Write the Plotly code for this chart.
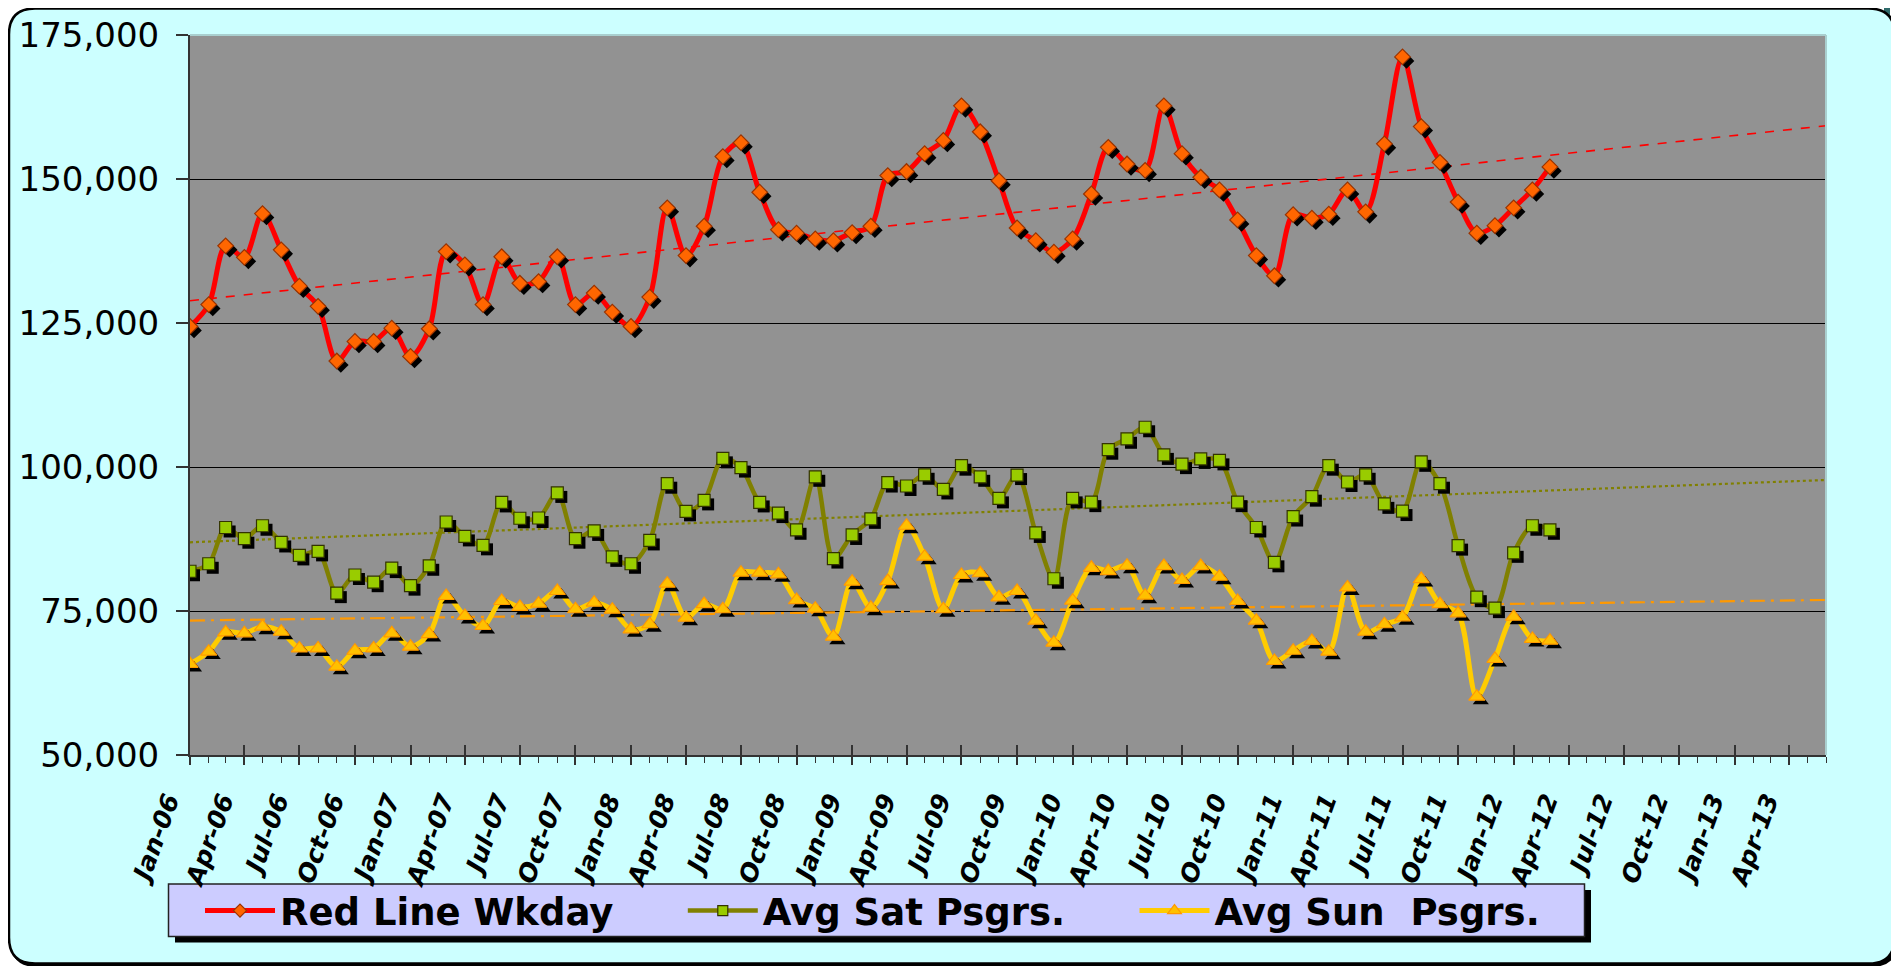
import numpy as np
import pandas as pd
import plotly.graph_objects as go

# ---------------- data ----------------
months = pd.date_range("2006-01-01", "2012-03-01", freq="MS")  # Jan-06 .. Mar-12
axis_start = "2006-01-01"
axis_end = "2013-06-01"

red_wkday = [124400, 128200, 138400, 136400, 144000, 137700, 131400, 127900, 118400, 121800,
             121800, 124100, 119200, 124000, 137400, 135100, 128200, 136500, 131900, 132200,
             136500, 128200, 130200, 126900, 124400, 129500, 145000, 136700, 141800, 153900,
             156300, 147700, 141200, 140600, 139600, 139300, 140700, 141800, 150600, 151300,
             154400, 156700, 162700, 158200, 149700, 141500, 139300, 137300, 139600, 147400,
             155500, 152600, 151500, 162700, 154400, 150300, 148100, 142900, 136700, 133200,
             143800, 143200, 143900, 148100, 144300, 156100, 171200, 159100, 152900, 146000,
             140600, 141900, 145000, 148100, 152100]

avg_sat = [81900, 83200, 89500, 87550, 89800, 86900, 84650, 85350, 78100, 81250,
           80000, 82450, 79400, 82850, 90450, 87950, 86400, 93850, 91100, 91150,
           95500, 87550, 88900, 84400, 83200, 87250, 97100, 92300, 94200, 101500,
           99900, 93850, 92000, 89100, 98300, 84100, 88200, 91000, 97300, 96700,
           98650, 96100, 100230, 98300, 94550, 98600, 88550, 80600, 94550, 93900,
           103000, 104900, 106900, 102100, 100500, 101400, 101150, 93900, 89500, 83450,
           91400, 94850, 100230, 97400, 98650, 93600, 92350, 100900, 97100, 86350,
           77400, 75500, 85100, 89800, 89100]

avg_sun = [65800, 67950, 71300, 71130, 72270, 71400, 68500, 68500, 65330, 68100,
           68500, 71130, 68800, 71000, 77600, 74130, 72400, 76740, 75700, 76270,
           78470, 75300, 76440, 75230, 71820, 72700, 79740, 73840, 76200, 75300,
           81650, 81650, 81370, 76900, 75400, 70540, 80090, 75570, 80200, 89800,
           84430, 75300, 81250, 81550, 77380, 78470, 73320, 69500, 76790, 82500,
           81940, 82860, 77660, 82800, 80380, 82800, 80950, 76740, 73320, 66320,
           68100, 69800, 67930, 79100, 71400, 72700, 73900, 80550, 76200, 74600,
           60120, 66670, 74000, 70140, 69840]

names = ["Red Line Wkday", "Avg Sat Psgrs.", "Avg Sun\u00a0 Psgrs."]
y_range = [50000, 175000]

# ---------------- geometry (screen pixels; page body adds an 8 px offset) ----------------
OFF = 8
SW, SH = 1899, 966
W, H = SW - OFF, SH - OFF
PL, PR, PT, PB = 190, 1826, 35, 755          # plot area in screen pixels
pw, ph = PR - PL, PB - PT


def px(x):
    return (x - PL) / pw


def py(y):
    return (PB - y) / ph


def P(x, y):
    return f"{px(x):.5f},{py(y):.5f}"


def rounded(L, T, R, B, r):
    return (f"M {P(L + r, T)} L {P(R - r, T)} Q {P(R, T)} {P(R, T + r)} L {P(R, B - r)} "
            f"Q {P(R, B)} {P(R - r, B)} L {P(L + r, B)} Q {P(L, B)} {P(L, B - r)} "
            f"L {P(L, T + r)} Q {P(L, T)} {P(L + r, T)} Z")


# ---------------- trend lines (linear least squares, forecast to axis end) ----------------
t0 = months[0]
tend = pd.Timestamp(axis_end)
xd = np.array((months - t0).days, dtype=float)


def trend(vals):
    m, c = np.polyfit(xd, np.array(vals, dtype=float), 1)
    te = (tend - t0).days
    return [t0, tend], [c, m * te + c]


# marker shadow offset (4 px right / down) converted through the axis scales
days_total = (tend - t0).days
shadow_dt = pd.Timedelta(days=4 * days_total / pw)
shadow_dy = 4 * (y_range[1] - y_range[0]) / ph

styles = [
    dict(line="#FF0000", lw=5, sym="diamond", msize=12, mfill="#FF6600", medge="#993300",
         tcol="#FF0000", tdash="dash", twidth=1.6),
    dict(line="#808000", lw=4.5, sym="square", msize=12, mfill="#99CC00", medge="#333300",
         tcol="#808000", tdash="dot", twidth=2.2),
    dict(line="#FFCC00", lw=5, sym="triangle-up", msize=14, mfill="#FFC000", medge="#FF9900",
         tcol="#FF9900", tdash="longdashdot", twidth=2.2),
]
series = [red_wkday, avg_sat, avg_sun]
legend_names = [names[0] + "\u00a0" * 5, names[1] + "\u00a0" * 5, names[2]]

fig = go.Figure()

# trend lines first (beneath data)
for vals, st in zip(series, styles):
    tx, ty = trend(vals)
    fig.add_trace(go.Scatter(x=tx, y=ty, mode="lines", showlegend=False, hoverinfo="skip",
                             line=dict(color=st["tcol"], width=st["twidth"], dash=st["tdash"])))

for vals, st in zip(series, styles):
    fig.add_trace(go.Scatter(x=months, y=vals, mode="lines", showlegend=False,
                             line=dict(color=st["line"], width=st["lw"], shape="spline", smoothing=0.9)))
    fig.add_trace(go.Scatter(x=months + shadow_dt, y=np.array(vals) - shadow_dy, mode="markers",
                             showlegend=False, hoverinfo="skip",
                             marker=dict(symbol=st["sym"], size=st["msize"], color="black",
                                         line=dict(width=0))))
    fig.add_trace(go.Scatter(x=months, y=vals, mode="markers", showlegend=False,
                             marker=dict(symbol=st["sym"], size=st["msize"], color=st["mfill"],
                                         line=dict(color=st["medge"], width=1.2))))

# legend entries
for st, nm in zip(styles, legend_names):
    fig.add_trace(go.Scatter(x=[None], y=[None], mode="lines+markers", name=nm,
                             line=dict(color=st["line"], width=st["lw"]),
                             marker=dict(symbol=st["sym"], size=st["msize"] - 2, color=st["mfill"],
                                         line=dict(color=st["medge"], width=1.2))))

# helper trace for the inside (crossing) major ticks
fig.add_trace(go.Scatter(x=[months[0]], y=[None], xaxis="x2", yaxis="y", showlegend=False,
                         hoverinfo="skip", mode="markers", marker=dict(opacity=0)))

# ---------------- decorations ----------------
shapes = [
    dict(type="rect", xref="paper", yref="paper", x0=px(1884), x1=px(1890), y0=py(0), y1=py(16),
         fillcolor="#2F6B6B", line=dict(width=0), layer="below"),
    dict(type="path", xref="paper", yref="paper", path=rounded(11, 10.5, 1897, 966, 26),
         fillcolor="black", line=dict(color="black", width=2), layer="below"),
    dict(type="path", xref="paper", yref="paper", path=rounded(9, 8.5, 1894.5, 963.5, 26),
         fillcolor="#CCFFFF", line=dict(color="black", width=2.5), layer="below"),
    dict(type="rect", xref="paper", yref="paper", x0=0, x1=1, y0=0, y1=1,
         fillcolor="#929292", line=dict(width=0), layer="below"),
    dict(type="rect", xref="paper", yref="paper", x0=px(175), x1=px(1591), y0=py(942.5), y1=py(890),
         fillcolor="black", line=dict(width=0), layer="below"),
    dict(type="rect", xref="paper", yref="paper", x0=px(168.5), x1=px(1584.5), y0=py(936.5),
         y1=py(884), fillcolor="#CCCCFF", line=dict(color="#222222", width=1.5), layer="below"),
    dict(type="line", xref="paper", yref="paper", x0=0, x1=1, y0=1, y1=1,
         line=dict(color="#A9CFCF", width=2), layer="above"),
    dict(type="line", xref="paper", yref="paper", x0=1, x1=1, y0=0, y1=1,
         line=dict(color="#A9CFCF", width=2), layer="above"),
]

tick_col = "#333333"
fig.update_layout(
    width=W, height=H,
    margin=dict(l=PL - OFF, r=SW - PR, t=PT - OFF, b=SH - PB, pad=0, autoexpand=False),
    paper_bgcolor="white",
    plot_bgcolor="#929292",
    shapes=shapes,
    showlegend=True,
    legend=dict(orientation="h", xref="container", yref="container",
                x=(200 - OFF) / W, xanchor="left", y=1 - (911 - OFF) / H, yanchor="middle",
                bgcolor="rgba(0,0,0,0)", borderwidth=0, itemwidth=70,
                font=dict(family="DejaVu Sans", size=37, color="black", weight="bold")),
    xaxis=dict(type="date", range=[axis_start, axis_end], tick0=axis_start, dtick="M3",
               tickformat="%b-%y", tickangle=-70, ticks="outside", ticklen=8,
               tickcolor=tick_col, tickwidth=1.5, showline=True, linecolor=tick_col, linewidth=2,
               showgrid=False, zeroline=False, automargin=False,
               ticklabelstandoff=11, ticklabelshift=-22,
               tickfont=dict(family="DejaVu Sans", size=25, color="black", weight="bold",
                             style="italic"),
               minor=dict(dtick="M1", ticks="outside", ticklen=6, tickcolor=tick_col,
                          tickwidth=1, showgrid=False)),
    xaxis2=dict(type="date", overlaying="x", matches="x", anchor="y", side="bottom",
                range=[axis_start, axis_end], tick0=axis_start, dtick="M3", ticks="inside",
                ticklen=10, tickcolor=tick_col, tickwidth=1.5, showticklabels=False,
                showgrid=False, showline=False, zeroline=False),
    yaxis=dict(range=y_range, tick0=50000, dtick=25000, tickformat=",", showgrid=True,
               gridcolor="black", gridwidth=1, showline=True, linecolor=tick_col, linewidth=2,
               ticks="outside", ticklen=12, tickcolor=tick_col, tickwidth=1.5, zeroline=False,
               ticklabelstandoff=10, automargin=False,
               tickfont=dict(family="DejaVu Sans", size=34, color="black")),
)

fig.write_html("out.html")
